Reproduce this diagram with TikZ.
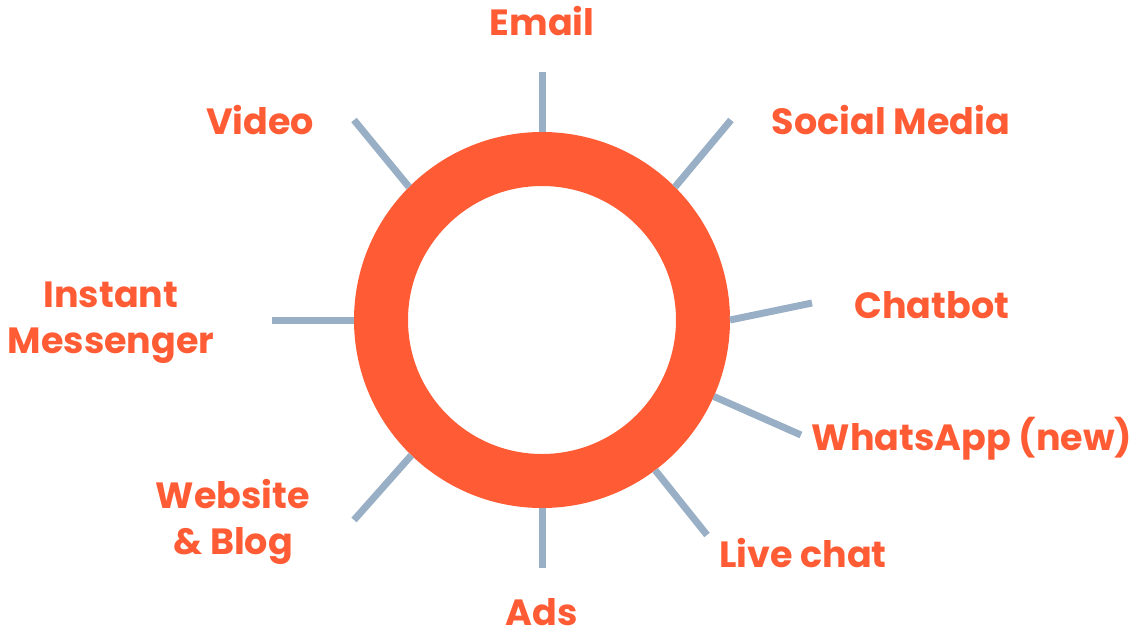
\documentclass[tikz,border=0pt]{standalone}
\usepackage{fontspec}
\setmainfont{Poppins}
\definecolor{ringc}{HTML}{FF5C35}
\definecolor{spoke}{HTML}{99AFC5}
\begin{document}
\begin{tikzpicture}[x=1pt,y=-1pt,
  lbl/.style={text=ringc,font=\fontsize{36.5}{46}\selectfont\bfseries,inner sep=0pt,anchor=base,align=center},
  spk/.style={draw=spoke,line width=7pt}]
\useasboundingbox (0,0) rectangle (1134,635);
\node[circle,minimum size=322pt,draw=ringc,line width=54pt,inner sep=0pt] (ring) at (542,320) {};
\coordinate (eE) at (542,72);
\coordinate (eS) at (731,120);
\coordinate (eV) at (354,120);
\coordinate (eC) at (812,303);
\coordinate (eW) at (801,435);
\coordinate (eL) at (707,535);
\coordinate (eA) at (542,568);
\coordinate (eB) at (354,520);
\coordinate (eI) at (272,320);
\draw[spk] (ring.90) -- (eE);
\draw[spk] (ring.45) -- (eS);
\draw[spk] (ring.135) -- (eV);
\draw[spk] (ring.-0.6) -- (eC);
\draw[spk] (ring.-24.5) -- (eW);
\draw[spk] (ring.-53.3) -- (eL);
\draw[spk] (ring.-90) -- (eA);
\draw[spk] (ring.-134.6) -- (eB);
\draw[spk] (ring.180) -- (eI);
\node[lbl] (tE) at (542,35) {Email};
\node[lbl] (tV) at (260,134) {Video};
\node[lbl] (tS) at (891,134) {Social Media};
\node[lbl] (tI) at (111,353) {Instant\\Messenger};
\node[lbl] (tC) at (932,318) {Chatbot};
\node[lbl] (tW) at (972,450) {WhatsApp (new)};
\node[lbl] (tB) at (233,554) {Website\\\&~Blog};
\node[lbl] (tL) at (803,567) {Live chat};
\node[lbl] (tA) at (542,625) {Ads};
\end{tikzpicture}
\end{document}
